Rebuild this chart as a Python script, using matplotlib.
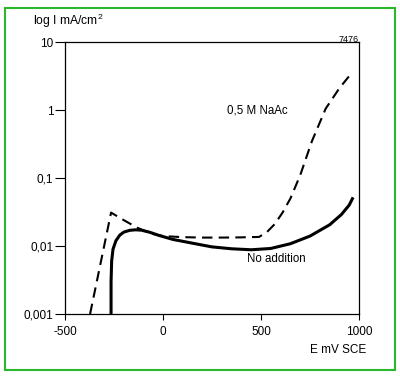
import numpy as np
import matplotlib
matplotlib.use("Agg")
import matplotlib.pyplot as plt
from matplotlib.patches import Rectangle

plt.rcParams['font.family'] = ['Liberation Sans', 'DejaVu Sans']
plt.rcParams['mathtext.fontset'] = 'custom'
plt.rcParams['mathtext.rm'] = 'Liberation Sans'

# No addition (solid curve)
e_none = [-265, -265, -262, -255, -240, -220, -200, -170, -140, -110, -70, -20,
          50, 150, 250, 350, 450, 550, 650, 750, 850, 910, 950, 970]
i_none = [0.001, 0.003, 0.006, 0.009, 0.012, 0.0145, 0.016, 0.0170, 0.0173, 0.0171,
          0.0160, 0.0143, 0.0125, 0.0110, 0.0097, 0.0091, 0.0088, 0.0092, 0.0108,
          0.0140, 0.0205, 0.029, 0.040, 0.052]

# 0,5 M NaAc (dashed curve)
e_naac = [-372, -265, -200, -130, -60, 0, 100, 200, 300, 400, 490, 530, 570,
          610, 650, 700, 760, 830, 900, 955]
i_naac = [0.001, 0.031, 0.024, 0.0185, 0.0152, 0.0140, 0.0135, 0.0133, 0.0133,
          0.0134, 0.0136, 0.016, 0.021, 0.031, 0.05, 0.11, 0.35, 1.05, 2.1, 3.3]

x_ticks = [-500, 0, 500, 1000]
y_ticks = [0.001, 0.01, 0.1, 1, 10]
y_labels = ['0,001', '0,01', '0,1', '1', '10']

fig = plt.figure(figsize=(4.0, 3.76), dpi=100)
ax = fig.add_axes([0.1625, 0.165, 0.735, 0.723])

ax.plot(e_none, i_none, color='black', lw=2.2, solid_capstyle='butt')
ax.plot(e_naac, i_naac, color='black', lw=1.5, dashes=(5.0, 3.0))

ax.set_yscale('log')
ax.set_xlim(-500, 1000)
ax.set_ylim(0.001, 10)
ax.set_xticks(x_ticks)
ax.set_xticklabels([str(v) for v in x_ticks])
ax.set_yticks(y_ticks)
ax.set_yticklabels(y_labels)
ax.yaxis.set_minor_locator(matplotlib.ticker.NullLocator())
ax.tick_params(axis='x', direction='out', length=4, width=0.8, pad=5, labelsize=8.5)
ax.tick_params(axis='y', direction='out', length=7, width=0.8, pad=1.5, labelsize=8.5)
for s in ax.spines.values():
    s.set_linewidth(0.9)

ax.text(480, 1.0, '0,5 M NaAc', fontsize=8.3, ha='center', va='center')
ax.text(576, 0.0065, 'No addition', fontsize=8.3, ha='center', va='center')

fig.text(33 / 400, 1 - 21 / 376, 'log I mA/cm$^2$', fontsize=8.7, ha='left', va='center')
fig.text(359 / 400, 1 - 39 / 376, '7476', fontsize=6.5, ha='right', va='center')
fig.text(366 / 400, 1 - 350 / 376, 'E mV SCE', fontsize=8.5, ha='right', va='center')

fig.patches.append(Rectangle((5 / 400, 6 / 376), 390 / 400, 362 / 376,
                             transform=fig.transFigure, fill=False,
                             edgecolor='#2cb82c', lw=1.5))

fig.savefig('out.png', dpi=100)
